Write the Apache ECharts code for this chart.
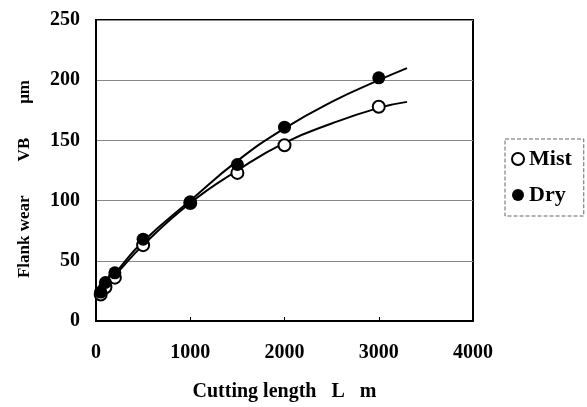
<!DOCTYPE html>
<html>
<head>
<meta charset="utf-8">
<script src="https://cdn.jsdelivr.net/npm/echarts@6/dist/echarts.min.js"></script>
<style>
  html, body { margin: 0; padding: 0; background: #fff; }
  #chart { width: 587px; height: 407px; }
</style>
</head>
<body>
<div id="chart"></div>
<script>
// measured points (cutting length, m)
var lengths = [50, 100, 200, 500, 1000, 1500, 2000, 3000];
var mistWear = [22, 28, 36, 63, 98, 123, 146, 178];
var dryWear = [24, 32, 40, 68, 99, 130, 161, 202];

// fitted curves
var curveLengths = [30, 250, 500, 1000, 1500, 2000, 2500, 3000, 3300];
var mistCurve = [22, 42, 63, 98, 125, 148, 164, 177, 182];
var dryCurve = [22, 44, 66, 100, 133, 160, 182, 200, 210];

var xTicks = [0, 1000, 2000, 3000, 4000];
var yTicks = [0, 50, 100, 150, 200, 250];

function pairs(xs, ys) {
  return xs.map(function (x, i) { return [x, ys[i]]; });
}

var font = 'Liberation Serif, Times New Roman, serif';

var chart = echarts.init(document.getElementById('chart'));
chart.setOption({
  animation: false,
  grid: {
    left: 96, right: 114, top: 20, bottom: 86,
    show: true, borderColor: '#000', borderWidth: 2
  },
  legend: {
    orient: 'vertical',
    left: 505, top: 139,
    padding: [9, 12, 10, 6],
    itemGap: 14,
    itemWidth: 12, itemHeight: 12,
    borderColor: '#666', borderWidth: 1, borderType: 'dashed',
    textStyle: { fontFamily: font, fontSize: 22, fontWeight: 'bold', color: '#000' },
    data: ['Mist', 'Dry']
  },
  xAxis: {
    type: 'value',
    min: 0, max: xTicks[xTicks.length - 1], interval: 1000,
    name: 'Cutting length   L   m',
    nameLocation: 'middle', nameGap: 61,
    nameTextStyle: { fontFamily: font, fontSize: 20, fontWeight: 'bold', color: '#000' },
    axisLine: { lineStyle: { color: '#000', width: 2 } },
    axisTick: { inside: true, length: 4, lineStyle: { color: '#000' } },
    axisLabel: {
      margin: 22, fontFamily: font, fontSize: 20, fontWeight: 'bold', color: '#000',
      formatter: function (v) { return String(v); }
    },
    splitLine: { show: false }
  },
  yAxis: {
    type: 'value',
    min: 0, max: yTicks[yTicks.length - 1], interval: 50,
    name: 'Flank wear        VB        μm    ',
    nameLocation: 'middle', nameGap: 63,
    nameTextStyle: { fontFamily: font, fontSize: 17, fontWeight: 'bold', color: '#000' },
    axisLine: { show: true, lineStyle: { color: '#000', width: 2 } },
    axisTick: { show: false },
    axisLabel: { margin: 16, fontFamily: font, fontSize: 20, fontWeight: 'bold', color: '#000' },
    splitLine: { lineStyle: { color: '#888', width: 1 } }
  },
  series: [
    {
      name: 'MistCurve', type: 'line', smooth: true, symbol: 'none',
      data: pairs(curveLengths, mistCurve),
      lineStyle: { color: '#000', width: 2 }, z: 2
    },
    {
      name: 'DryCurve', type: 'line', smooth: true, symbol: 'none',
      data: pairs(curveLengths, dryCurve),
      lineStyle: { color: '#000', width: 2 }, z: 2
    },
    {
      name: 'Mist', type: 'scatter', symbol: 'circle', symbolSize: 12,
      data: pairs(lengths, mistWear),
      itemStyle: { color: '#fff', borderColor: '#000', borderWidth: 2, opacity: 1 }, z: 3
    },
    {
      name: 'Dry', type: 'scatter', symbol: 'circle', symbolSize: 13,
      data: pairs(lengths, dryWear),
      itemStyle: { color: '#000', opacity: 1 }, z: 4
    }
  ]
});
</script>
</body>
</html>
